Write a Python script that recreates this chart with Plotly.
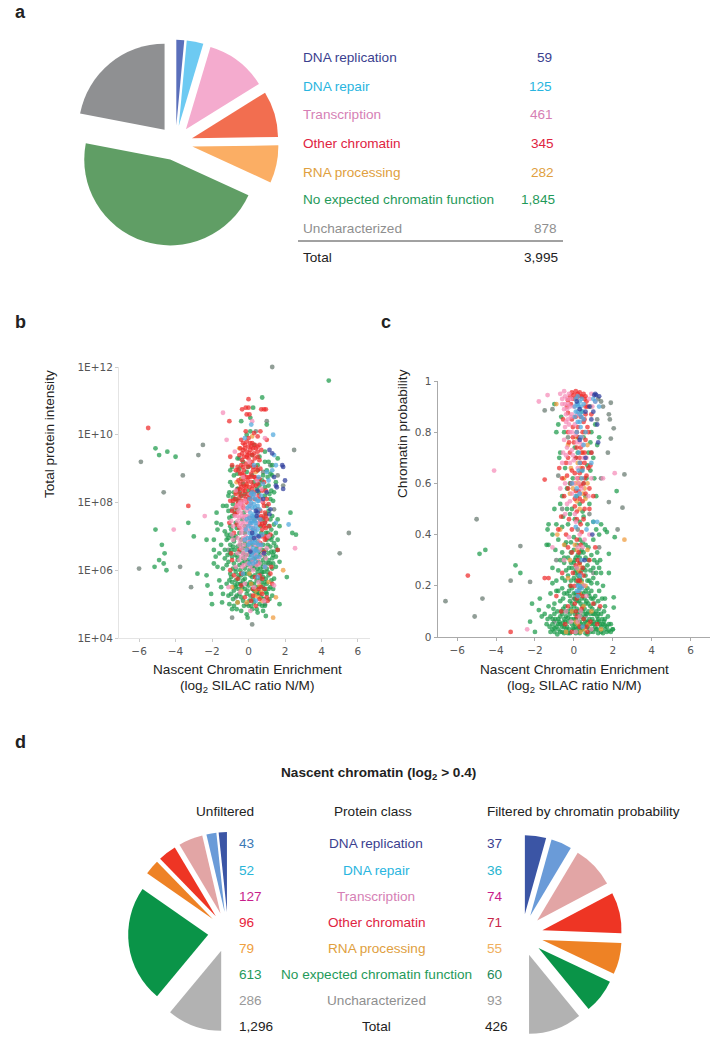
import plotly.graph_objects as go

WIDTH, HEIGHT = 722, 1048

# protein classes
classes = ['DNA replication', 'DNA repair', 'Transcription', 'Other chromatin',
           'RNA processing', 'No expected chromatin function', 'Uncharacterized']
counts_all = [59, 125, 461, 345, 282, 1845, 878]
counts_all_text = ['59', '125', '461', '345', '282', '1,845', '878', '3,995']
counts_unfiltered = [43, 52, 127, 96, 79, 613, 286]
counts_unfiltered_text = ['43', '52', '127', '96', '79', '613', '286', '1,296']
counts_filtered = [37, 36, 74, 71, 55, 60, 93]
counts_filtered_text = ['37', '36', '74', '71', '55', '60', '93', '426']

# panel b, (log2 ratio, log10 intensity)
b_gray = [(1.3,12),(5,6.5),(5.5,7.1),(-5.9,9.2),(-2.5,9.7),(-2.75,9.4),(-3.6,8.8),(-4.65,8.3),(-6,6.05),(-3.75,6.1),(-3.15,5.5),(-.9,4.6),(.2,4.4),(2.5,9.55),
    (-.5,9.3),(.6,8.6),(1.2,9.1),(-.9,7.8),(.9,7.4),(.2,6.3),(-.4,5.6),(.5,5.3),(1.1,6.2),(-1.1,6.6),(.1,8.2),(-.2,7.1),(.7,5.9),(-.7,5.2),(1.4,7.8),(.4,10.1),(1,10.4),(-.1,5),(.9,5),(-.3,6.5),(.3,7.5),(.8,8.9),(-.6,8.4),(1.6,8.8),(1.9,8.5)]
b_green = [(4.4,11.6),(-5.1,9.6),(-4.9,9.4),(-4.45,9.5),(-4,9.35),(-3.3,7.4),(-5.1,7.2),(-3,7),(-2.3,6.9),(-4.75,6.75),(-4.6,6.5),(-4.9,6.3),(-4.65,6.2),(-5.15,6.1),(-4.5,6),(-2.8,5.9),(-2.3,5.85),(-2.25,5.55),(-2,5),(-2.05,5.3),(1.7,5),(2.3,7.7),(2.4,7.1),(2.6,7.05),(2.1,5.8),(.75,11.1),(.25,10.8),
    (-1.75,7.7),(-1.4,7.9),(-1.75,7.4),(-1.5,7.35),(-1.7,7.2),(-1.3,7.15),(-1.9,6.9),(-1.9,6.6),(-1.8,6.4),(-1.9,6.2),(-1.7,6.1),(-1.6,6.5),(-1.5,6.75),(-1.3,6.35),(-1.4,6.05),(-1.6,5.7),(-1.5,5.5),(-1.4,5.3),(-1.45,5.05),(-1.2,5.6),(-1.1,5.25),(-1.05,5),(-.9,4.85),(-.7,5.5),
    (-.4,10.4),(.1,10.5),(.1,10.1),(1,10.3),(-.1,10),(.3,9.7),(.9,9.5),(-.6,9.3),(-.3,9.2),(.2,9.4),(.6,9.35),(.9,9.2),(1.1,9.2),(1.6,9.3),(1.3,9.1),(-.9,9.05),(-.5,9),(0,9.05),(.5,9.1),
    (-1,8.95),(-.8,8.8),(-.6,8.85),(-.4,8.7),(-.1,8.9),(.2,8.8),(.5,8.95),(.8,8.8),(1,8.95),(1.3,8.8),(1.5,8.6),(-.9,8.5),(-.6,8.4),(-.3,8.55),(0,8.35),(.3,8.6),(.6,8.5),(1.1,8.5),(1.4,8.3),(-1.1,8.2),(-.7,8.1),(-.4,8.2),(.9,8.2),(1.2,8.1),
    (-1.2,7.9),(-.9,7.6),(-.6,7.8),(1,7.9),(1.3,7.6),(1.6,7.5),(-1,7.3),(-.7,7.4),(.8,7.5),(1.1,7.3),(1.5,7.1),(1.7,7.3),(-1.2,7.05),(-.9,7),(-.5,7.1),(.7,7.1),(1.3,7),(1.6,6.9),(-.2,7.3),
    (-1.2,6.9),(-1,6.75),(-.8,6.85),(-.6,6.7),(-.4,6.9),(-.2,6.8),(.5,6.85),(.8,6.75),(1,6.9),(1.2,6.7),(1.4,6.8),(1.6,6.6),(-1.3,6.6),(-1,6.5),(-.7,6.45),(-.5,6.55),(-.3,6.35),(0,6.6),(.3,6.5),(.6,6.55),(.9,6.4),(1.1,6.5),(1.3,6.35),(1.5,6.4),(-1.1,6.25),(-.8,6.2),(-.5,6.15),(-.2,6.05),(.1,6.25),(.4,6.15),(.7,6.2),(1,6.05),(1.2,6.2),(1.5,6.1),(1.7,6.25),
    (-1,5.9),(-.7,5.95),(-.4,5.85),(-.1,5.9),(.2,5.8),(.5,5.95),(.8,5.8),(1.1,5.85),(1.4,5.75),(-.9,5.65),(-.6,5.6),(-.3,5.7),(0,5.55),(.3,5.6),(.6,5.5),(.9,5.65),(1.2,5.5),(-.8,5.4),(-.5,5.3),(-.2,5.45),(.1,5.25),(.4,5.35),(.7,5.2),(1,5.3),(1.3,5.25),(-.6,5.05),(-.3,5.1),(0,4.95),(.3,5.05),(.6,5),(.9,4.95),(-.4,4.8),(-.1,4.7),(.2,4.85),(-.05,4.6),
    (-.55,8.05),(-.2,8.25),(.45,8.4),(.75,8.65),(-.85,7.95),(-.35,7.5),(.95,7.65),(1.2,7.5),(-.65,7.25),(-1.05,7.55),(.65,7.3),(1.05,7.1),(-.75,6.95),(-.3,6.65),(.75,6.6),(1.05,6.75),(-.95,6.6),(-.15,6.45),(.45,6.4),(.8,6.3),(-.6,6.3),(-.05,6.3),(.3,6.05),(.65,6.05),(.95,6.2),(-.85,6.05),(-.45,6),(.05,6),(.85,5.95),(1.3,6.05),(-.55,5.75),(-.2,5.75),(.1,5.65),(.45,5.7),(.7,5.65),(1,5.6),(-.7,5.7),(-.35,5.5),(.2,5.45),(.85,5.45),(-.65,5.25),(-.1,5.3),(.55,5.35),(.85,5.15),(-.25,4.95),(.45,4.85),
    (-.75,6.6),(-.45,6.75),(-.1,6.7),(.2,6.75),(.45,6.65),(.65,6.45),(.95,6.6),(1.25,6.55),(-.9,6.4),(-.6,6.4),(-.2,6.25),(.05,6.45),(.35,6.35),(.55,6.25),(.8,6.1),(1.1,6.3),(1.35,6.2),(-.7,6.05),(-.35,6.2),(-.05,6.15),(.2,6.1),(.5,6.05),(.75,5.95),(1.05,5.95),(-.95,5.8),(-.55,5.85),(-.25,5.9),(.1,5.85),(.35,5.85),(.65,5.75),(.95,5.75),(1.25,5.7),(-.75,5.55),(-.45,5.6),(-.1,5.6),(.2,5.6),(.45,5.5),(.8,5.55),(1.1,5.45),(-.55,5.45),(-.05,5.4),(.3,5.4),(.6,5.3),(.95,5.35),(-.85,5.15),(-.4,5.2),(.05,5.1),(.25,5.15),(.75,4.95),(.15,4.95),(-.75,7.7),(-.5,8.3),(-.25,7.7),(.55,8.3),(.9,8.45),(1.15,8.25),(1.2,8.85),(-.8,8.3),(-1,8.6),(.95,7.1),(1.25,7.2),(-1,7.05),(-.7,7),(-.85,6.7),(1.25,6.9),(1.4,6.55),
    (1.05,8.75),(1.25,8.35),(1.35,8.05),(1.1,7.75),(1.4,7.35),(1.15,6.95),(1.5,6.7),(1.35,6.45),(-1.05,8.3),(-.85,8.15),(-1.1,7.75),(-.95,7.2),(-1.1,6.95),(-1.15,6.45),(-1.2,6.15),(-1.05,5.7),(-.95,5.3),(1.35,5.45),(1.15,5.15),(-.8,4.95),(.5,4.75),(.8,4.8),(-.65,4.85),(.95,4.65)]
b_orange = [(1.35,4.6),(1.9,6),(.4,5.4),(.6,5.55),(.55,5.2),(.7,5.35),(.35,5.25),(-.4,5.4),(.15,5.6),(-.1,8.5),(-.4,8.7),(-.7,8.3),(.1,9.2),(-.5,9.6),(.2,9.95),(-.6,5.05),(-.1,5.05),(1.1,5.65),(.75,5.1),(-.9,5.5),(-.3,7.9),(-.65,8.6),(.4,8.9),(.05,5.9),(1.5,5.2)]
b_red = [(-5.5,10.2),(-3.3,7.9),(0,11.05),(-1.05,10.4),(-.35,10.75),(-.15,10.8),(0,10.8),(.7,10.75),(.85,10.75),(.95,10.75),(-.1,10.6),(.05,10.6),
    (.3,10.05),(.5,9.95),(.65,10.1),(0,9.9),(-.15,10.1),(1,9.85),(.1,9.75),(-.4,9.85),(-.2,9.7),(0,9.65),(.2,9.75),(.4,9.6),(.6,9.7),(-.3,9.55),(-.1,9.5),(.1,9.55),(.3,9.45),(.5,9.5),(.7,9.55),(-.5,9.4),(-.25,9.35),(0,9.3),(.35,9.3),(.6,9.25),(-1,9.35),(-.9,9.1),(-.4,9.1),(-.15,9.15),(.1,9.1),(.4,9.05),(.65,9),
    (-.7,8.95),(-.45,8.85),(-.25,8.95),(0,8.75),(.25,8.95),(.45,8.7),(-.55,8.65),(-.3,8.65),(-.1,8.55),(.15,8.6),(.4,8.5),(.6,8.7),(-.4,8.45),(-.2,8.35),(.05,8.45),(.3,8.3),(.75,8.35),(-.7,8.25),(-.5,8.15),(-.25,8.2),(0,8.15),(.55,8.2),(1,8.1),(-.85,8.05),(.8,8),(1.1,7.95),
    (-.6,7.95),(-.3,7.85),(.5,7.8),(.9,7.7),(-.75,7.65),(.7,7.6),(1,7.5),(.6,7.35),(.85,7.3),(-.5,7.25),(-.8,7.1),(.75,7),(-.9,6.3),(.9,6.9),(-1,6),(.1,6.9),(.5,6.2),(1.2,5.9),(-.6,5.75),(.7,5.5),(1.3,5.6),(-.2,5.2),(.4,4.95),(.75,5.75),(1.6,6.6),
    (-.35,9.25),(-.05,9.4),(.2,9.2),(.5,9.35),(-.6,9.05),(-.25,8.8),(.15,8.85),(.35,8.75),(-.5,8.4),(-.15,8.45),(.2,8.4),(.5,8.55),(-.6,8.05),(-.35,8.05),(-.1,8),(.35,8.1),(.65,8.1),(.85,7.9),(.55,7.55),(.75,7.35),(-.65,7.35),(.95,7.25),(.65,6.8),(.85,6.55),(-.5,6.6),(1,5.2),(-.4,5.9),(.25,5.25),(.6,5.15),(.35,5.8),
    (-.3,9.75),(-.1,9.8),(.15,9.65),(.35,9.7),(-.45,9.6),(-.2,9.6),(.05,9.45),(.25,9.6),(.5,9.65),(-.35,9.45),(-.1,9.35),(.2,9.4),(-.3,9.05),(-.05,9.05),(.25,9.05),(.5,8.95),(-.55,8.95),(-.35,8.85),(-.15,8.75),(.1,8.75),(.3,8.75),(-.45,8.55),(-.25,8.5),(-.05,8.65),(.25,8.5),(-.3,8.35),(-.05,8.25),(.15,8.3),(-.45,8.25),(-.15,8.1),(.1,8.1),(-.6,8.35),(-.75,8.1),(.65,7.75),(.8,7.55),(.95,7.6),(.65,7.45),(.9,7.4),(.75,7.2),(.95,7),(-.65,7.7),(-.7,7.85),(-.9,7.75),(-.4,7.95),(.25,5.45),(.15,5.1),(.55,5.45),(.75,5.3),(.9,5.45),(-.4,5.55),
    (1.15,7.3),(1.2,7.05),(1,6.95),(-1.05,7.4),(-1,8.05),(.85,8.6),(.95,8.35),(1.05,5.1),(-.8,5.85),(-.95,6.5),(1.25,6.1),(.6,5.85)]
b_pink = [(-1.4,10.65),(-2.4,7.6),(-4.1,7.2),(2.55,6.65),(.2,10.4),(-1.2,9.85),(.9,9.9),(-.7,8.35),(-.45,8),(-.2,8.05),(.1,7.95),(-.55,7.75),(-.35,7.6),(-.1,7.75),(.15,7.55),(-.6,7.45),(-.3,7.35),(0,7.45),(.25,7.25),(.5,7.4),(-.4,7.1),(-.15,7),(.1,7.15),(.4,7),(-.6,6.95),(-.25,6.75),(.05,6.7),(.35,6.75),(.6,6.6),(-.4,6.4),(-.1,6.45),(.2,6.3),(.55,6.35),(-.3,8.75),(.05,9.2),(-.75,9.5),(.35,8.2),(.7,8.05),(-.85,7.3),(1,6.65),(-.7,6.1),(-.2,5.6),(.3,5.5),(-.45,5.35),(.85,5.1),(.1,4.8),(1.4,5.55),(-1.1,5.5),(.55,5.65),(-.9,7.05),(1.1,7),
    (-.45,7.85),(-.15,7.6),(.05,7.8),(-.5,7.55),(-.2,7.45),(.1,7.35),(-.5,7.3),(-.1,7.2),(.35,7.2),(-.3,6.95),(0,6.85),(.55,6.85),(-.5,6.75),(.15,6.6),(-.3,6.5),(.4,6.45),(-.05,6.2),(.75,6.45),(-.35,6.1),(.25,6),(-.6,6.5),(-.75,7.6),(-.65,7.9),(.45,6.15),
    (-.35,7.95),(-.2,7.85),(-.5,7.95),(-.4,7.7),(-.25,7.55),(-.05,7.6),(.05,7.55),(-.4,7.4),(-.2,7.25),(-.05,7.35),(-.35,7.2),(-.2,6.9),(.15,7),(-.45,6.85),(-.15,6.6),(.05,6.55),(-.2,6.35),(.25,6.45),(.65,6.7),(-.5,6.3),(.1,6.1),(-.4,6.65),(.25,6.2),(-.25,6.15),(.6,6.2),(.95,6.35),(-.85,6.9),(-.95,7.45),(.9,6.1),(.35,6.55),(.5,6.75),(-.6,7.6),(.7,8.4),(.1,8.25),(.45,8.65)]
b_cyan = [(1.35,10),(.2,8.3),(.4,8.1),(.15,8),(.35,7.85),(.1,7.7),(.3,7.65),(0,7.3),(.2,7.4),(.45,7.55),(.05,7.1),(.25,7.05),(.5,7.2),(-.05,6.95),(.2,6.85),(.4,6.6),(.15,6.5),(-.1,6.6),(.3,6.35),(.05,6.2),(.6,7.8),(.7,8.2),(.8,8.55),(1.4,9.4),(1.5,9.1),(1.1,8.65),(1,8.9),(1.3,8.95),(.55,8.75),(.3,9.1),(-.2,9.9),(.15,10.3),(1.5,7.4),(2.2,7.35),(.9,6.1),(.4,5.1),(-.3,5.9),(.5,5.8),
    (.25,8.15),(.05,7.9),(.3,7.95),(.5,7.9),(.2,7.6),(.4,7.4),(.15,7.25),(.35,7.15),(.1,6.95),(.35,6.9),(0,6.75),(.25,6.65),(.5,6.55),(.1,6.35),(.4,6.25),(.6,7),(.65,7.5),(-.1,7.5),
    (.15,8.25),(.3,8.25),(.05,8.1),(.5,8.05),(.2,7.85),(.45,7.75),(.25,7.55),(.05,7.55),(.35,7.45),(.15,7.45),(.1,7.4),(.4,7.3),(.25,7.2),(.45,7.05),(.15,7),(.25,6.8),(.45,6.8),(.05,6.8),(.3,6.55),(.55,6.75),(.2,6.45),(.45,6.4),(.25,6.2),(-.2,6.9),(-.15,7.2),(.6,6.4),(.7,6.75),(.55,8.05),(.75,7.05),(-.05,7.85)]
b_blue = [(1.15,9.55),(1.3,9.45),(1.9,9.05),(1.85,9.1),(2,8.65),(1.4,8.75),(1.5,8.5),(1.9,8.4),(1.55,8.45),(.5,8.35),(.4,7.75),(.5,7.7),(.45,7.6),(.2,7.1),(.1,6.55),(.85,6.5),(.8,8.1),(1,8.3),(1.2,7.8),(1.15,7.65),(.3,6.95),(.55,7)]

# panel c, (log2 ratio, chromatin probability)
c_gray = [(-6.6,.14),(-5,.46),(-4.7,.15),(-5.1,.08),(-2.75,.355),(-3.25,.22),(-2.25,.215),(-1.5,.885),(1.9,.915),(1.8,.87),(1.85,.85),(2.05,.815),(1.9,.775),(1.75,.72),(2.6,.635),(1.8,.527),(2.5,.505),(2.25,.42),(1.5,.9),(1.25,.93),(1.4,.92),(-1.1,.89),(-.9,.3),(-.6,.5),(.9,.72),(-.3,.78),(1.2,.85),(.5,.6),(.2,.42),(-.8,.63),(1.4,.62),(0,.15),(.6,.08),(-1,.06),(.4,.03),(1.3,.35),(.8,.48),(.1,.7),(1,.25)]
c_green = [(-4.55,.34),(-4.85,.325),(-3,.28),(-2.75,.25),(-2,.02),(-2.25,.06),(-2.15,.13),(-1.75,.15),(-1.8,.105),(-1.65,.08),(2.2,.57),(2.1,.39),(1.8,.325),(1.8,.25),(2.05,.155),(2.05,.115),
    (-1.3,.44),(-1.35,.42),(-1.4,.36),(-1.3,.36),(-.9,.44),(-.6,.43),(-.3,.44),(.05,.46),(.3,.45),(.7,.44),(1,.45),(1.4,.44),(1.6,.42),(1.7,.41),(-.8,.38),(-.4,.37),(0,.39),(.3,.38),(.6,.36),(1,.38),(1.3,.4),(-.6,.33),(-.3,.31),(0,.34),(.2,.32),(.4,.34),(.6,.31),(.9,.32),(1.2,.33),
    (-1.1,.27),(-.8,.26),(-.5,.29),(-.25,.27),(0,.29),(.15,.27),(.3,.29),(.5,.27),(.7,.28),(1,.27),(1.2,.29),(1.4,.25),(1.3,.27),(-.9,.22),(-.6,.23),(-.3,.24),(0,.23),(.2,.24),(.4,.22),(.6,.24),(.8,.22),(1,.23),(1.2,.21),(1.5,.2),
    (-1.2,.17),(-.9,.18),(-.6,.19),(-.35,.17),(-.1,.19),(.1,.17),(.3,.19),(.5,.17),(.7,.19),(.9,.18),(1.1,.16),(1.3,.18),(1.6,.15),(-1.3,.12),(-1,.13),(-.7,.14),(-.45,.12),(-.2,.14),(0,.12),(.25,.14),(.45,.12),(.65,.14),(.85,.12),(1.05,.13),(1.3,.11),(1.6,.12),
    (-1.5,.09),(-1.2,.08),(-1,.09),(-.8,.07),(-.6,.09),(-.4,.08),(-.2,.09),(0,.07),(.2,.09),(.4,.08),(.6,.09),(.8,.07),(1,.09),(1.2,.08),(1.4,.09),(1.6,.07),(-1.4,.05),(-1.1,.05),(-.9,.04),(-.7,.05),(-.5,.04),(-.3,.06),(-.1,.05),(.1,.04),(.3,.06),(.5,.05),(.7,.04),(.9,.05),(1.1,.04),(1.3,.06),(1.5,.05),(1.7,.04),(1.9,.05),(2,.03),
    (-1.2,.02),(-1,.02),(-.8,.03),(-.6,.02),(-.4,.03),(-.2,.015),(0,.03),(.2,.02),(.4,.03),(.6,.015),(.8,.03),(1,.02),(1.2,.03),(1.4,.02),(1.6,.03),(1.8,.025),(2,.03),
    (-.1,.5),(.3,.52),(.6,.55),(-.2,.6),(.4,.65),(.7,.67),(1,.7),(-.7,.72),(1.2,.75),(.2,.78),(.9,.8),(-.8,.83),(-.9,.8),(.4,.88),(1.3,.78),(-1,.91),
    (-.1,.27),(.1,.31),(.35,.33),(.05,.25),(.25,.21),(-.15,.22),(.5,.2),(.75,.17),(-.2,.16),(.05,.15),(.4,.15),(.6,.13),(.9,.15),(-.55,.11),(-.3,.1),(-.05,.1),(.15,.11),(.35,.1),(.55,.11),(.75,.1),(.95,.11),(1.15,.1),(-.75,.06),(-.45,.06),(-.15,.07),(.1,.07),(.3,.08),(.5,.07),(.7,.06),(.95,.07),(1.2,.06),(-.95,.07),(-.6,.04),(-.25,.03),(.05,.05),(.25,.04),(.45,.03),(.85,.02),(1.05,.05),(1.4,.04),(-.85,.01),(-.5,.015),(.1,.015),(.7,.01),(1.25,.015),
    (-.45,.36),(-.15,.37),(.15,.36),(.45,.37),(.75,.35),(-.5,.31),(-.15,.33),(.05,.3),(.3,.31),(.5,.33),(.75,.3),(-.4,.26),(-.15,.29),(.1,.26),(.25,.25),(.4,.26),(.6,.26),(.85,.26),(-.45,.22),(-.2,.2),(.1,.22),(.3,.23),(.45,.2),(.7,.22),(.9,.21),(-.5,.17),(-.25,.18),(0,.17),(.2,.16),(.35,.17),(.6,.18),(.8,.16),(1,.15),(-.55,.15),(-.1,.13),(.15,.14),(.35,.13),(.55,.15),(.75,.13),(-.85,.1),(-.65,.1),(-.4,.1),(-.15,.11),(.05,.09),(.25,.1),(.45,.1),(.65,.09),(.85,.09),(1.05,.09),(1.25,.09),(1.45,.07),(-1.1,.07),(-.7,.08),(-.5,.07),(-.3,.075),(.15,.06),(.35,.05),(.6,.06),(.8,.05),(1,.06),(1.25,.07),(1.55,.06),(-1.25,.04),(-1,.035),(-.8,.05),(-.55,.055),(-.35,.04),(-.05,.035),(.15,.03),(.55,.04),(.75,.055),(1.15,.03),(1.35,.05),(1.6,.045),(1.8,.05),(-1.1,.03),(-.7,.02),(-.3,.015),(.3,.015),(.95,.03),(1.5,.015),(1.7,.02),
    (-.55,.47),(-.2,.48),(.45,.49),(.8,.52),(-.35,.5),(.15,.55),(.5,.47),(-.6,.55),(-.35,.58),(-.05,.62),(.65,.62),(.85,.65),(-.75,.7),(-.45,.66),(.2,.72),(.75,.72),(-.5,.8),(.05,.74),(.85,.76),(.5,.78),(1.1,.83),(-.65,.86),(.85,.9),(-.7,.52),(1.15,.55),(1.05,.62),(-1,.5),(-1.1,.4),(1.15,.42),(-.95,.34),(-.7,.3),(1.05,.3),(1.35,.3),(-.8,.18),(-1.1,.21),(1.15,.25),(1.45,.15),(1.25,.14),(-1.05,.11),(-1.35,.07),(1.75,.08),(1.55,.1),(1.9,.02)]
c_orange = [(2.6,.38),(.1,.6),(.55,.58),(.6,.54),(-.2,.56),(.3,.5),(.45,.72),(.2,.68),(-.5,.62),(.7,.75),(-.15,.66),(-.9,.91),(-.7,.42),(-.5,.36),(-.85,.4),(.3,.28),(.5,.12),(.2,.05),(-.4,.02),(.55,.03),(.3,.17),(1.4,.03),(.9,.1),(-.2,.3),(.05,.36),
    (.25,.6),(.45,.56),(.35,.62),(-.05,.58),(.15,.53),(.7,.6),(.35,.66),(-.3,.75),(.1,.78),(.55,.8),(.15,.34),(.25,.26),(.6,.2),(.1,.06),(.35,.02),(.75,.05),(-.1,.1),(.4,.21),(.7,.34),(-.3,.23)]
c_red = [(-5.45,.24),(-3.25,.02),(-1.5,.615),(-1.3,.23),(-.1,.955),(.1,.96),(.3,.955),(.5,.95),(-.2,.94),(0,.945),(.2,.95),(.4,.94),(.6,.94),(-.3,.925),(.65,.92),(-.35,.9),(.7,.9),(-.3,.875),(.6,.87),(.1,.86),(-.1,.85),(.9,.87),(.5,.84),(.7,.82),(.75,.8),(.2,.82),(-.3,.8),(.6,.77),(0,.76),(.35,.74),(-.2,.72),(.55,.72),(.1,.7),(-.4,.68),(.35,.68),(.75,.66),(-.1,.65),(.2,.62),(-.6,.62),(.5,.6),(-.3,.58),(.1,.57),(.6,.56),(.3,.54),(-.5,.55),(.8,.58),(.05,.51),(.55,.5),(-.1,.42),(.4,.41),(-.8,.42),(-.3,.35),(.25,.33),(.1,.28),(.35,.25),(.2,.22),(-.15,.2),(.45,.16),(.1,.1),(.5,.07),(-.3,.12),(-.6,.25),(-1.5,.23),(.8,.3),(1,.13),(.3,.04),(-.1,.02),(.7,.02),(1.2,.05),(-.9,.16),
    (.45,.8),(.25,.78),(-.05,.78),(.55,.68),(.15,.74),(-.25,.76),(.3,.64),(-.35,.63),(.65,.63),(.05,.54),(.35,.59),(.15,.46),(.2,.3),(-.05,.25),(.25,.17),(.05,.13),(.65,.04),(.45,.27),
    (-.05,.93),(.15,.935),(.35,.94),(.55,.93),(-.15,.91),(.6,.9),(.55,.85),(.35,.86),(-.05,.82),(.15,.8),(.4,.72),(.3,.7),(-.3,.7),(.45,.66),(.05,.64),(.55,.62),(-.15,.6),(.25,.57),(.45,.53),(.15,.49),(-.25,.46),(.5,.46),(.35,.44),(-.4,.4),(.15,.38),(.35,.36),(-.1,.33),(.3,.29),(.5,.24),(.05,.2),(.3,.22),(.15,.15),(.4,.11),(-.45,.05),(.85,.06),(.15,.08),
    (.8,.5),(-.65,.47),(1,.55),(.9,.72),(-.55,.85),(.85,.67),(-.75,.66),(1.1,.35),(-.65,.1),(1.35,.12)]
c_pink = [(-4.1,.65),(-1.8,.92),(-1.35,.945),(2.1,.64),(-.7,.95),(-.6,.93),(-.5,.96),(-.45,.94),(-.6,.91),(-.5,.89),(-.4,.87),(-.45,.91),(-.2,.9),(-.3,.85),(.2,.87),(-.2,.8),(.1,.79),(-.5,.77),(.3,.76),(-.1,.73),(.2,.66),(-.4,.71),(.5,.7),(-.7,.58),(0,.6),(.4,.58),(-.2,.53),(.9,.62),(-.6,.68),(1.5,.62),(-1.1,.35),(-.5,.3),(.2,.35),(.8,.4),(.5,.2),(-.4,.1),(.2,.06),(-2.4,.03),(.9,.03),(1.1,.92),(.95,.9),(.8,.93),(.9,.95),
    (-.3,.91),(-.15,.93),(-.1,.87),(0,.9),(-.35,.93),(.05,.83),(-.1,.8),(-.45,.82),(.4,.78),(0,.69),(-.2,.68),(.25,.6),(-.35,.52),(.1,.45),(.45,.35),(.1,.02),(.35,.1),
    (-.25,.95),(-.35,.89),(-.15,.86),(-.4,.84),(-.25,.83),(.15,.76),(-.35,.74),(-.05,.71),(.45,.75),(-.55,.72),(.15,.62),(-.45,.6),(.65,.7),(.3,.56),(-.1,.56),(.05,.48),(.3,.4),(-.25,.39),(.75,.55),(-.45,.48),(.55,.38),(.15,.27),(.65,.16),(.3,.08),(-.15,.06)]
c_cyan = [(.1,.93),(.2,.91),(.3,.92),(.4,.93),(.25,.9),(.05,.9),(.45,.88),(.3,.87),(.2,.94),(.5,.91),(.1,.88),(.35,.82),(.2,.84),(.6,.8),(.25,.72),(.45,.65),(.1,.55),(.9,.68),(1,.45),(1.2,.45),(.4,.19),(.2,.2),(.25,.18),(.15,.18),(.3,.2),(1,.93),(1.1,.92),(1.3,.9),(-.1,.6),(.65,.42),
    (.15,.91),(.35,.9),(.2,.88),(.4,.86),(.05,.86),(.3,.84),(.5,.85),(.15,.8),(.35,.78),(.5,.75),(.3,.68),(.25,.65),(.4,.62),(.15,.58),(.3,.56),(.1,.43),(.4,.3),(.3,.24),(.2,.16),(.45,.04)]
c_blue = [(1.1,.95),(1.15,.945),(1.05,.945),(1.3,.94),(.8,.9),(.6,.88),(1,.88),(1.2,.83),(.9,.85),(.3,.89),(.15,.92),(.6,.7),(.3,.77),(1.25,.76),(.95,.4),(.55,.3)]

x_ticks = [-6, -4, -2, 0, 2, 4, 6]
b_ticks = [4, 6, 8, 10, 12]
b_tick_text = ['1E+04', '1E+06', '1E+08', '1E+10', '1E+12']
c_ticks = [0, 0.2, 0.4, 0.6, 0.8, 1]

# colours
pie_a_colors = ['#5a6fbb', '#6dcaf2', '#f4abce', '#f26e50', '#fbae64', '#609e65', '#8f9092']
pie_d_colors = ['#3b55a5', '#6a9bd8', '#e2a5a5', '#ee3524', '#ee8225', '#0a9448', '#b2b2b2']
label_colors = ['#3b3f8f', '#29b5e0', '#d67fb5', '#e0243f', '#e0a040', '#1f9a5a', '#8f8f8f', '#222222']
left_num_colors = ['#3b78b5', '#29b5d8', '#c81e8c', '#e8233c', '#efa040', '#1f9a5a', '#999999', '#222222']
right_num_colors = ['#3b3f8f', '#29b5d0', '#c81e8c', '#c8284a', '#efb060', '#1f8a5a', '#999999', '#222222']
dot_colors = {'gray': '#66786f', 'green': '#1c9a4a', 'orange': '#ee9a3a', 'red': '#ee2b2b',
              'pink': '#f58cb8', 'cyan': '#4fa8dc', 'blue': '#2f3f9c'}

SANS = 'Liberation Sans'


def px(x):
    return x / WIDTH


def py(y):
    return 1 - y / HEIGHT


def text(x, y, s, color='#222222', size=13.6, anchor='left', angle=0):
    fig.add_annotation(x=px(x), y=py(y), xref='paper', yref='paper', text=s, showarrow=False,
                       xanchor=anchor, yanchor='middle', textangle=angle,
                       font=dict(family=SANS, size=size, color=color))


def half_pie(values, colors, cx, cy, half, pull, direction):
    # the other half of the circle is an invisible slice
    # counterclockwise pies put their first slice right of 12 o'clock, so turn it back
    rotation = -180 * values[0] / sum(values) if direction == 'counterclockwise' else 0
    fig.add_trace(go.Pie(values=values + [sum(values)], labels=classes + ['hidden'], sort=False,
                         direction=direction, rotation=rotation, textinfo='none', showlegend=False,
                         pull=[pull] * len(values) + [0],
                         marker=dict(colors=colors + ['rgba(0,0,0,0)'], line=dict(width=0)),
                         domain=dict(x=[px(cx - half), px(cx + half)], y=[py(cy + half), py(cy - half)])))


fig = go.Figure()

# a
fig.add_trace(go.Pie(values=counts_all, labels=classes, sort=False, direction='clockwise', rotation=0,
                     textinfo='none', showlegend=False, pull=0.2,
                     marker=dict(colors=pie_a_colors, line=dict(width=0)),
                     domain=dict(x=[px(175.5 - 103.2), px(175.5 + 103.2)], y=[py(143 + 103.2), py(143 - 103.2)])))

# d
half_pie(counts_unfiltered, pie_d_colors, 228, 932, 100, 0.25, 'counterclockwise')
half_pie(counts_filtered, pie_d_colors, 522, 935, 100, 0.265, 'clockwise')

# b and c
for name, pts in [('gray', b_gray), ('green', b_green), ('orange', b_orange), ('red', b_red),
                  ('pink', b_pink), ('cyan', b_cyan), ('blue', b_blue)]:
    fig.add_trace(go.Scatter(x=[p[0] for p in pts], y=[p[1] for p in pts], mode='markers', xaxis='x', yaxis='y',
                             showlegend=False, cliponaxis=False,
                             marker=dict(size=4.8, color=dot_colors[name], opacity=0.72, line=dict(width=0))))
for name, pts in [('gray', c_gray), ('green', c_green), ('orange', c_orange), ('red', c_red),
                  ('pink', c_pink), ('cyan', c_cyan), ('blue', c_blue)]:
    fig.add_trace(go.Scatter(x=[p[0] for p in pts], y=[p[1] for p in pts], mode='markers', xaxis='x2', yaxis='y2',
                             showlegend=False, cliponaxis=False,
                             marker=dict(size=4.8, color=dot_colors[name], opacity=0.72, line=dict(width=0))))

tickfont = dict(family='DejaVu Sans', size=10.5, color='#555555')
fig.update_layout(
    width=WIDTH, height=HEIGHT, margin=dict(l=0, r=0, t=0, b=0), autosize=False,
    paper_bgcolor='white', plot_bgcolor='white',
    xaxis=dict(domain=[px(119), px(370)], range=[-7.1, 6.66], anchor='y', tickvals=x_ticks, showgrid=False,
               zeroline=False, showline=True, linecolor='#e4e4e4', ticks='outside', ticklen=3, tickcolor='#cccccc',
               tickfont=tickfont, automargin=False),
    yaxis=dict(domain=[py(638), py(367)], range=[4, 12], anchor='x', tickvals=b_ticks, ticktext=b_tick_text,
               showgrid=False, zeroline=False, showline=True, linecolor='#e4e4e4', ticks='outside', ticklen=3,
               tickcolor='#cccccc', tickfont=tickfont, automargin=False),
    xaxis2=dict(domain=[px(437.7), px(710)], range=[-7, 7], anchor='y2', tickvals=x_ticks, showgrid=False,
                zeroline=False, showline=True, linecolor='#aaaaaa', linewidth=1.2, ticks='outside', ticklen=3,
                tickcolor='#aaaaaa', tickfont=tickfont, automargin=False),
    yaxis2=dict(domain=[py(637), py(381)], range=[0, 1], anchor='x2', tickvals=c_ticks, showgrid=False,
                zeroline=False, showline=True, linecolor='#aaaaaa', linewidth=1.2, ticks='outside', ticklen=3,
                tickcolor='#aaaaaa', tickfont=tickfont, automargin=False),
    shapes=[dict(type='line', xref='paper', yref='paper', x0=px(298), x1=px(563), y0=py(241), y1=py(241),
                 line=dict(color='#444444', width=1))],
)

# panel letters
for letter, x, y in [('a', 13, 12), ('b', 13, 322), ('c', 379, 322), ('d', 13, 742)]:
    text(x, y, '<b>' + letter + '</b>', size=18)

# table a
rows_a = [58, 86.5, 115, 143.5, 172, 200, 228.5, 257]
right_a = [551.7, 551.7, 553, 553.7, 553.7, 555, 557, 557.6]
for i, y in enumerate(rows_a):
    text(301, y, (classes + ['Total'])[i], label_colors[i])
    text(right_a[i] + 2, y, counts_all_text[i], label_colors[i], anchor='right')

# axis titles of b and c
text(49, 434, 'Total protein intensity', anchor='center', angle=-90)
text(402, 434, 'Chromatin probability', anchor='center', angle=-90)
for x in (247, 574):
    text(x, 669, 'Nascent Chromatin Enrichment', anchor='center')
    text(x, 686, '(log<sub>2</sub> SILAC ratio N/M)', anchor='center')

# table d
text(378.5, 773, '<b>Nascent chromatin (log<sub>2</sub> &gt; 0.4)</b>', anchor='center')
text(225, 811, 'Unfiltered', anchor='center')
text(373, 811, 'Protein class', anchor='center')
text(485, 811, 'Filtered by chromatin probability')
rows_d = [843.7, 870, 896, 922, 948, 974, 1000, 1026]
for i, y in enumerate(rows_d):
    text(237, y, counts_unfiltered_text[i], left_num_colors[i])
    text(376, y, (classes + ['Total'])[i], label_colors[i], anchor='center')
    text(483 if i == 7 else 484.7, y, counts_filtered_text[i], right_num_colors[i])

fig.write_html("out.html", config={'displayModeBar': False}, post_script="document.body.style.margin = '0';")
